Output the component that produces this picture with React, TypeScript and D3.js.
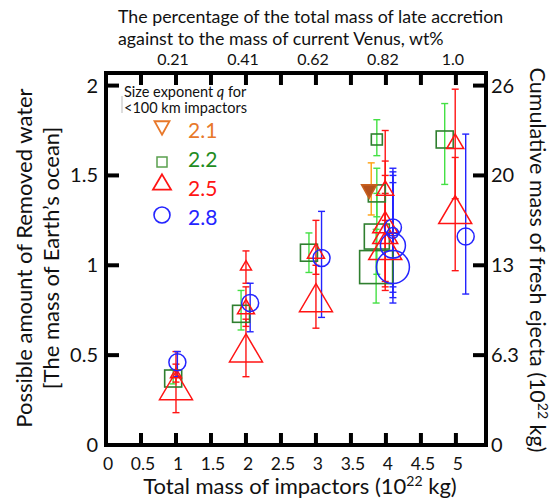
import React from "react";
import * as d3 from "d3";

const W = 553;
const H = 499;

// x ticks (bottom) and top labels
const xTicks = [0.5, 1, 1.5, 2, 2.5, 3, 3.5, 4, 4.5, 5];
const xLabels = ["0", "0.5", "1", "1.5", "2", "2.5", "3", "3.5", "4", "4.5", "5"];
const topTickPos = [1, 2, 3, 4, 5];
const topLabels = ["0.21", "0.41", "0.62", "0.82", "1.0"];
const yTicks = [0.5, 1, 1.5, 2];
const yLabels = ["0", "0.5", "1", "1.5", "2"];
const rightLabels = ["0", "6.3", "13", "20", "26"];

// Series: q = 2.1 (orange, down triangle)
const q21X = [3.76];
const q21Y = [1.41];
const q21Lo = [1.28];
const q21Hi = [1.57];
const q21S = [2];
const q21ErrX = [3.79];

// q = 2.2 (green squares)
const q22X = [0.96, 1.93, 2.9, 3.87, 3.87, 3.87, 3.86, 4.84];
const q22Y = [0.37, 0.73, 1.07, 1.7, 1.4, 1.16, 0.99, 1.7];
const q22Lo = [0.34, 0.64, 0.96, 1.61, 1.27, 0.95, 0.79, 1.45];
const q22Hi = [0.42, 0.86, 1.18, 1.81, 1.54, 1.4, 1.2, 1.9];
const q22S = [2, 2, 2, 1, 2, 3, 4, 2];

// q = 2.5 (red up triangles)
const q25X = [1.0, 1.0, 2.0, 2.0, 2.0, 3.0, 3.0, 3.99, 3.99, 3.99, 3.99, 4.99, 4.99];
const q25Y = [0.4, 0.33, 1.0, 0.77, 0.54, 1.08, 0.82, 1.43, 1.24, 1.18, 1.11, 1.69, 1.31];
const q25Lo = [0.35, 0.18, 0.9, 0.66, 0.38, 0.95, 0.65, 1.25, 0.91, 0.88, 0.86, 1.37, 0.97];
const q25Hi = [0.52, 0.45, 1.08, 0.88, 0.7, 1.25, 1.0, 1.75, 1.58, 1.5, 1.4, 1.98, 1.6];
const q25S = [1, 4, 1, 2, 4, 2, 4, 2, 3, 3, 4, 2, 4];

// q = 2.8 (blue circles)
const q28X = [1.02, 2.06, 3.08, 4.1, 4.1, 4.1, 4.1, 5.14];
const q28Y = [0.46, 0.79, 1.04, 1.21, 1.18, 1.11, 0.99, 1.16];
const q28Lo = [0.38, 0.63, 0.71, 0.88, 0.85, 0.82, 0.79, 0.84];
const q28Hi = [0.52, 0.9, 1.3, 1.54, 1.52, 1.5, 1.46, 1.73];
const q28S = [2, 2, 2, 2, 1, 3, 4, 2];

const legendQ = ["2.1", "2.2", "2.5", "2.8"];

const FONT = "Lato, 'Open Sans', sans-serif";

const L = 106, R = 486, T = 73, B = 445;
const x = d3.scaleLinear().domain([0, 5.43]).range([L, R]);
const y = d3.scaleLinear().domain([0, 2.07]).range([B, T]);
const sizePx = d3.scaleOrdinal<number, number>().domain([1, 2, 3, 4]).range([11, 17, 25, 33]);

const RED = "#ff1414";
const BLUE = "#2424ff";
const GREEN_SQ = "#2f7f2f";
const GREEN_ERR = "#44e044";
const ORANGE_ERR = "#ffa010";
const ORANGE = "#e8782a";

function triUp(cx: number, cy: number, w: number) {
  const h = w * 0.85;
  return `M${cx},${cy - h / 2}L${cx + w / 2},${cy + h / 2}L${cx - w / 2},${cy + h / 2}Z`;
}
function triDown(cx: number, cy: number, w: number) {
  const h = w * 0.9;
  return `M${cx},${cy + h / 2}L${cx + w / 2},${cy - h / 2}L${cx - w / 2},${cy - h / 2}Z`;
}

function ErrBar({ xv, lo, hi, color }: { xv: number; lo: number; hi: number; color: string }) {
  const px = x(xv);
  const c = 3.5;
  return (
    <g stroke={color} strokeWidth={1.4} fill="none">
      <line x1={px} x2={px} y1={y(lo)} y2={y(hi)} />
      <line x1={px - c} x2={px + c} y1={y(lo)} y2={y(lo)} />
      <line x1={px - c} x2={px + c} y1={y(hi)} y2={y(hi)} />
    </g>
  );
}

export default function App() {
  return (
    <svg width={W} height={H} style={{ position: "absolute", left: 0, top: 0 }} fontFamily={FONT}>
      <rect width={W} height={H} fill="#fff" />
      {/* top title */}
      <text x={118} y={23} fontSize={17.8} fill="#111">The percentage of the total mass of late accretion</text>
      <text x={118} y={45} fontSize={17.8} fill="#111">against to the mass of current Venus, wt%</text>
      {topTickPos.map((v, i) => (
        <text key={i} x={x(v) - 3} y={65} fontSize={16} textAnchor="middle" fill="#111">{topLabels[i]}</text>
      ))}

      {/* error bars */}
      {q22X.map((v, i) => <ErrBar key={"ge" + i} xv={v} lo={q22Lo[i]} hi={q22Hi[i]} color={GREEN_ERR} />)}
      {q21X.map((v, i) => <ErrBar key={"oe" + i} xv={q21ErrX[i]} lo={q21Lo[i]} hi={q21Hi[i]} color={ORANGE_ERR} />)}
      {q25X.map((v, i) => <ErrBar key={"re" + i} xv={v} lo={q25Lo[i]} hi={q25Hi[i]} color={RED} />)}
      {q28X.map((v, i) => <ErrBar key={"be" + i} xv={v} lo={q28Lo[i]} hi={q28Hi[i]} color={BLUE} />)}

      {/* markers */}
      {q22X.map((v, i) => {
        const s = sizePx(q22S[i]);
        return <rect key={"g" + i} x={x(v) - s / 2} y={y(q22Y[i]) - s / 2} width={s} height={s} fill="none" stroke={GREEN_SQ} strokeWidth={1.6} />;
      })}
      {q21X.map((v, i) => (
        <path key={"o" + i} d={triDown(x(v), y(q21Y[i]), sizePx(q21S[i]) - 2)} fill="#b4511c" stroke="#c8601e" strokeWidth={1.6} />
      ))}
      {q25X.map((v, i) => (
        <path key={"r" + i} d={triUp(x(v), y(q25Y[i]), sizePx(q25S[i]))} fill="none" stroke={RED} strokeWidth={1.5} />
      ))}
      {q28X.map((v, i) => (
        <circle key={"b" + i} cx={x(v)} cy={y(q28Y[i])} r={sizePx(q28S[i]) / 2} fill="none" stroke={BLUE} strokeWidth={1.5} />
      ))}

      {/* frame */}
      <rect x={L} y={T} width={R - L} height={B - T} fill="none" stroke="#000" strokeWidth={4} />
      {xTicks.map((v, i) => (
        <g key={"xt" + i} stroke="#000" strokeWidth={4}>
          <line x1={x(v)} x2={x(v)} y1={B} y2={B - 12} />
          <line x1={x(v)} x2={x(v)} y1={T} y2={T + 12} />
        </g>
      ))}
      {yTicks.map((v, i) => (
        <g key={"yt" + i} stroke="#000" strokeWidth={4}>
          <line x1={L} x2={L + 13} y1={y(v)} y2={y(v)} />
          <line x1={R} x2={R - 13} y1={y(v)} y2={y(v)} />
        </g>
      ))}

      {/* tick labels */}
      {xLabels.map((t, i) => (
        <text key={"xl" + i} x={x(i * 0.5) + 2} y={470} fontSize={17.5} textAnchor="middle" fill="#111">{t}</text>
      ))}
      {yLabels.map((t, i) => (
        <text key={"yl" + i} x={98} y={y(i * 0.5) + 7} fontSize={20} textAnchor="end" fill="#111">{t}</text>
      ))}
      {rightLabels.map((t, i) => (
        <text key={"rl" + i} x={491} y={y(i * 0.5) + 7} fontSize={20} textAnchor="start" fill="#111">{t}</text>
      ))}

      {/* axis titles */}
      <text x={300} y={494} fontSize={22} textAnchor="middle" fill="#111">
        Total mass of impactors (10<tspan fontSize={14} dy={-8}>22</tspan><tspan dy={8}> kg)</tspan>
      </text>
      <text transform="translate(32,258) rotate(-90)" fontSize={22} textAnchor="middle" fill="#111">Possible amount of Removed water</text>
      <text transform="translate(59,258) rotate(-90)" fontSize={22} textAnchor="middle" fill="#111">[The mass of Earth’s ocean]</text>
      <text transform="translate(530,260) rotate(90)" fontSize={21.5} textAnchor="middle" fill="#111">
        Cumulative mass of fresh ejecta (10<tspan fontSize={14} dy={-8}>22</tspan><tspan dy={8}> kg)</tspan>
      </text>

      {/* legend */}
      <line x1={122} x2={122} y1={96} y2={113} stroke="#bbb" strokeWidth={1} />
      <text x={124} y={97} fontSize={14.5} fill="#111">Size exponent <tspan fontStyle="italic">q</tspan> for</text>
      <text x={124} y={113} fontSize={14.5} fill="#111">&lt;100 km impactors</text>
      <path d={triDown(162, 128, 15)} fill="none" stroke={ORANGE} strokeWidth={1.8} />
      <rect x={157} y={157} width={10} height={10} fill="none" stroke="#5aa04e" strokeWidth={1.5} />
      <path d={triUp(162, 182, 18)} fill="none" stroke={RED} strokeWidth={1.8} />
      <circle cx={162} cy={215} r={8} fill="none" stroke={BLUE} strokeWidth={1.6} />
      {legendQ.map((q, i) => (
        <text key={"lq" + i} x={188} y={138 + i * 29} fontSize={21} fill={[ORANGE, "#1f8c1f", RED, BLUE][i]}>{q}</text>
      ))}
    </svg>
  );
}
